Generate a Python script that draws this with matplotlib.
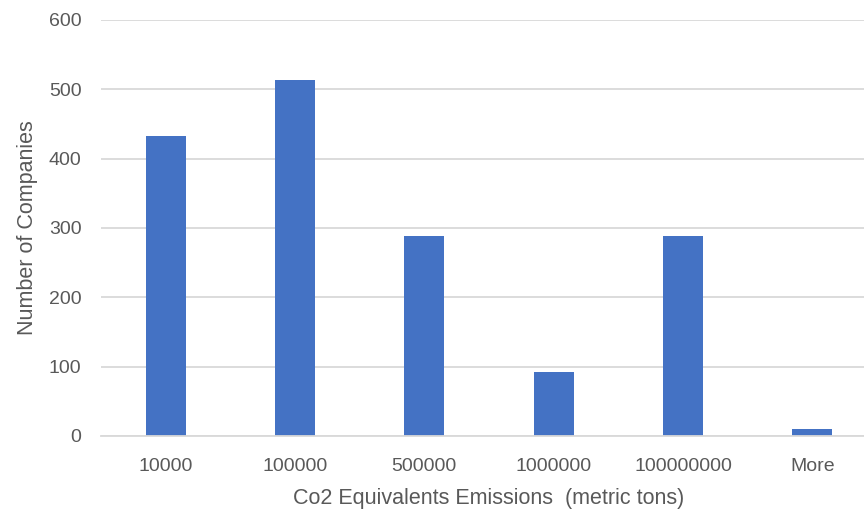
import matplotlib
matplotlib.use("Agg")
import matplotlib.pyplot as plt
import numpy as np

# Histogram bins of CO2-equivalent emissions and company counts
bins = ["10000", "100000", "500000", "1000000", "100000000", "More"]
counts = [433, 514, 289, 92, 288, 10]

BAR_COLOR = "#4472C4"
GRID_COLOR = "#D9D9D9"
TEXT_COLOR = "#595959"

plt.rcParams["font.family"] = ["Liberation Sans", "DejaVu Sans"]

fig = plt.figure(figsize=(8.64, 5.17), dpi=100)
ax = fig.add_axes([101 / 864, 81 / 517, 776 / 864, 416 / 517])

x = np.arange(len(bins))
ax.bar(x, counts, width=0.31, color=BAR_COLOR, zorder=2)

ax.set_xlim(-0.5, len(bins) - 0.5)
ax.set_ylim(0, 600)
ax.set_yticks(np.arange(0, 601, 100))
ax.set_xticks(x)
ax.set_xticklabels(bins)
ax.yaxis.grid(True, color=GRID_COLOR, linewidth=1.3, zorder=0)
ax.set_axisbelow(True)

for side in ["top", "right", "left"]:
    ax.spines[side].set_visible(False)
ax.spines["bottom"].set_color(GRID_COLOR)
ax.spines["bottom"].set_linewidth(1.3)

ax.tick_params(axis="both", length=0, labelsize=14, colors=TEXT_COLOR)
ax.tick_params(axis="x", pad=16)
ax.tick_params(axis="y", pad=14)

ax.set_xlabel("Co2 Equivalents Emissions  (metric tons)", fontsize=15.5,
              color=TEXT_COLOR, labelpad=9)
ax.set_ylabel("Number of Companies", fontsize=15.5, color=TEXT_COLOR, labelpad=8)

fig.savefig("out.png", dpi=100)
